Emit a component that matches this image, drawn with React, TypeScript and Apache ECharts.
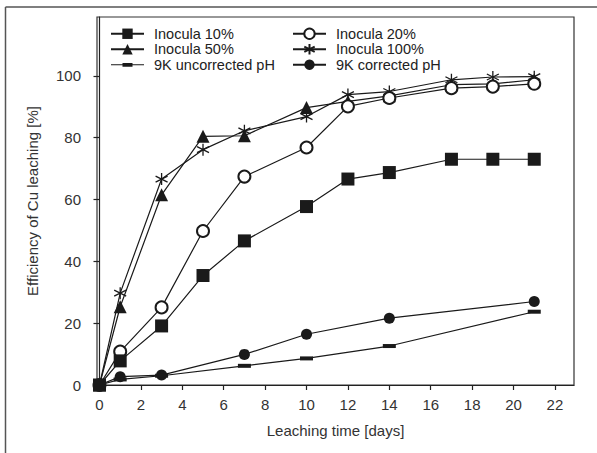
import React, { useEffect, useRef } from "react";
import * as echarts from "echarts";

const days = [0, 1, 3, 5, 7, 10, 12, 14, 17, 19, 21];
const inocula10 = [0, 7.8, 19.1, 35.4, 46.6, 57.7, 66.6, 68.7, 73.0, 73.0, 73.0];
const inocula20 = [0, 10.8, 25.1, 49.8, 67.4, 76.8, 90.1, 92.8, 96.0, 96.5, 97.4];
const inocula50 = [0, 25.3, 61.5, 80.4, 80.6, 89.7, 91.7, 93.5, 97.1, 97.4, 98.7];
const inocula100 = [0, 29.7, 66.6, 76.1, 82.2, 86.8, 93.9, 94.9, 98.7, 99.6, 99.7];
const daysControl = [0, 1, 3, 7, 10, 14, 21];
const uncorrected = [0, 1.8, 3.0, 6.2, 8.6, 12.6, 23.7];
const corrected = [0, 2.7, 3.2, 9.9, 16.4, 21.6, 27.0];

const xTicks = [0, 2, 4, 6, 8, 10, 12, 14, 16, 18, 20, 22];
const yTicks = [0, 20, 40, 60, 80, 100];

const names = [
  "Inocula 10%",
  "Inocula 20%",
  "Inocula 50%",
  "Inocula 100%",
  "9K uncorrected pH",
  "9K corrected pH",
];

const FONT = "Liberation Sans, Arial, Helvetica, sans-serif";
const INK = "#1a1a1a";
const ASTERISK = "path://M0,-6L0,6M-5.2,-3L5.2,3M-5.2,3L5.2,-3";
const DASH_ICON = "path://M0,0M33,13M0,6.1H33V7.1H0ZM11.5,4.8H21.5V8.4H11.5Z";

const pairs = (xs: number[], ys: number[]) => xs.map((x, i) => [x, ys[i]]);

export default function App() {
  const ref = useRef<HTMLDivElement>(null);
  useEffect(() => {
    if (!ref.current) return;
    const chart = echarts.init(ref.current, undefined, { renderer: "svg" });
    const lineStyle = { color: INK, width: 1.2 };
    const base = {
      type: "line",
      lineStyle,
      showAllSymbol: true,
      emphasis: { disabled: true },
    };
    const legendText = {
      fontFamily: FONT,
      fontSize: 14.5,
      color: "#222",
      lineHeight: 15.5,
      padding: [0, 0, 0, 5],
    };
    chart.setOption({
      animation: false,
      textStyle: { fontFamily: FONT },
      grid: {
        left: 97,
        top: 17,
        width: 477,
        height: 368,
        show: true,
        borderColor: "#333",
        borderWidth: 1.2,
        containLabel: false,
      },
      legend: [
        {
          orient: "vertical",
          left: 110,
          top: 26,
          padding: 0,
          itemGap: 0,
          itemWidth: 33,
          itemHeight: 13,
          selectedMode: false,
          textStyle: legendText,
          data: [names[0], names[2], { name: names[4], icon: DASH_ICON }],
        },
        {
          orient: "vertical",
          left: 292,
          top: 26,
          padding: 0,
          itemGap: 0,
          itemWidth: 33,
          itemHeight: 13,
          selectedMode: false,
          textStyle: legendText,
          data: [names[1], names[3], names[5]],
        },
      ],
      xAxis: {
        type: "value",
        min: -0.12,
        max: 22.92,
        name: "Leaching time [days]",
        nameLocation: "middle",
        nameGap: 38,
        nameTextStyle: { fontFamily: FONT, fontSize: 15, color: "#333" },
        axisLine: { show: true, lineStyle: { color: "#222", width: 1.2 } },
        axisTick: {
          show: true,
          length: 5,
          customValues: xTicks,
          lineStyle: { color: "#222", width: 1.2 },
        },
        axisLabel: {
          customValues: xTicks,
          margin: 12,
          fontFamily: FONT,
          fontSize: 15,
          color: "#333",
        },
        splitLine: { show: false },
      },
      yAxis: {
        type: "value",
        min: 0,
        max: 119,
        name: "Efficiency of Cu leaching [%]",
        nameLocation: "middle",
        nameGap: 57,
        nameTextStyle: { fontFamily: FONT, fontSize: 15, color: "#333" },
        axisLine: { show: true, lineStyle: { color: "#222", width: 1.2 } },
        axisTick: {
          show: true,
          length: 6,
          customValues: yTicks,
          lineStyle: { color: "#222", width: 1.2 },
        },
        axisLabel: {
          customValues: yTicks,
          margin: 16,
          fontFamily: FONT,
          fontSize: 15,
          color: "#333",
        },
        splitLine: { show: false },
      },
      graphic: [
        {
          type: "line",
          shape: { x1: 5.5, y1: 7, x2: 597, y2: 7 },
          style: { stroke: "#555", lineWidth: 1.5 },
          silent: true,
        },
        {
          type: "line",
          shape: { x1: 5.5, y1: 7, x2: 5.5, y2: 453 },
          style: { stroke: "#555", lineWidth: 1.5 },
          silent: true,
        },
      ],
      series: [
        {
          ...base,
          name: names[5],
          data: pairs(daysControl, corrected),
          symbol: "circle",
          symbolSize: 11,
          itemStyle: { color: INK },
        },
        {
          ...base,
          name: names[4],
          data: pairs(daysControl, uncorrected),
          symbol: "rect",
          symbolSize: [13, 4],
          itemStyle: { color: INK },
        },
        {
          ...base,
          name: names[3],
          data: pairs(days, inocula100),
          symbol: ASTERISK,
          symbolSize: 12,
          itemStyle: { color: INK, borderColor: INK, borderWidth: 1.3 },
        },
        {
          ...base,
          name: names[2],
          data: pairs(days, inocula50),
          symbol: "triangle",
          symbolSize: 13,
          itemStyle: { color: INK },
        },
        {
          ...base,
          name: names[1],
          data: pairs(days, inocula20),
          symbol: "emptyCircle",
          symbolSize: 12,
          itemStyle: { color: INK, borderColor: INK, borderWidth: 1.3 },
        },
        {
          ...base,
          name: names[0],
          data: pairs(days, inocula10),
          symbol: "rect",
          symbolSize: 13,
          itemStyle: { color: INK },
        },
      ],
    });
    return () => chart.dispose();
  }, []);
  return (
    <div
      ref={ref}
      style={{ position: "absolute", left: 0, top: 0, width: 597, height: 453, background: "#fff" }}
    />
  );
}
